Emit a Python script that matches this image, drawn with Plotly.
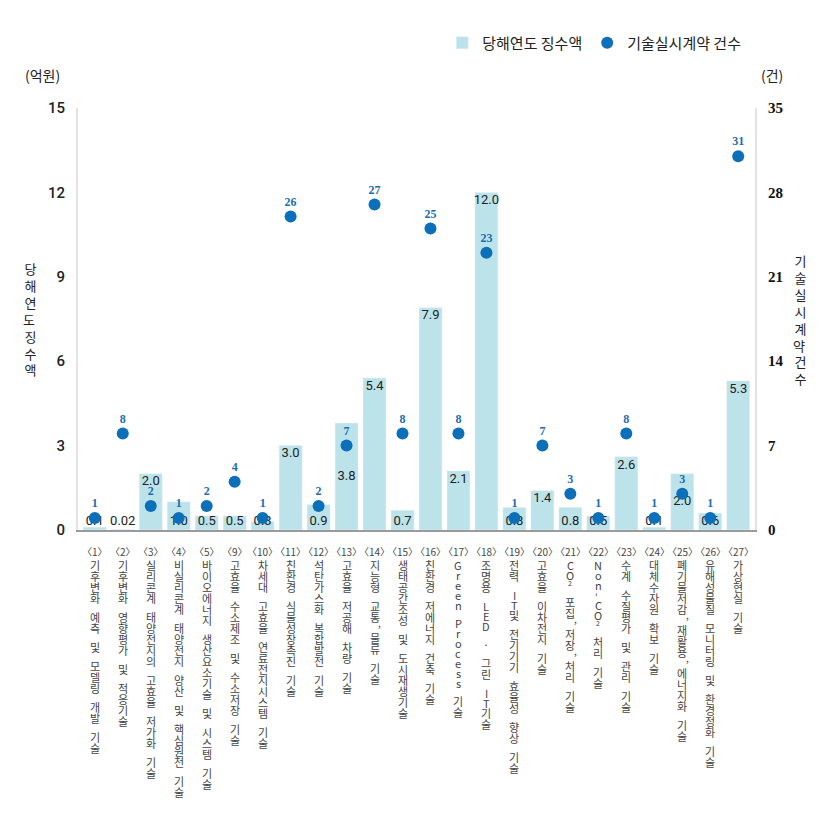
import plotly.graph_objects as go

categories = [
    "〈1〉기후변화 예측 및 모델링 개발 기술",
    "〈2〉기후변화 영향평가 및 적응기술",
    "〈3〉실리콘계 태양전지의 고효율 저가화 기술",
    "〈4〉비실리콘계 태양전지 양산 및 핵심원천 기술",
    "〈5〉바이오에너지 생산요소기술 및 시스템 기술",
    "〈9〉고효율 수소제조 및 수소저장 기술",
    "〈10〉차세대 고효율 연료전지시스템 기술",
    "〈11〉친환경 식물성장촉진 기술",
    "〈12〉석탄가스화 복합발전 기술",
    "〈13〉고효율 저공해 차량 기술",
    "〈14〉지능형 교통, 물류 기술",
    "〈15〉생태공간조성 및 도시재생기술",
    "〈16〉친환경 저에너지 건축 기술",
    "〈17〉Green Process 기술",
    "〈18〉조명용 LED · 그린 IT기술",
    "〈19〉전력 IT및 전기기기 효율성 향상 기술",
    "〈20〉고효율 이차전지 기술",
    "〈21〉CO₂ 포집, 저장, 처리 기술",
    "〈22〉Non-CO₂ 처리 기술",
    "〈23〉수계 수질평가 및 관리 기술",
    "〈24〉대체수자원 확보 기술",
    "〈25〉폐기물저감, 재활용, 에너지화 기술",
    "〈26〉유해성물질 모니터링 및 환경정화 기술",
    "〈27〉가상현실 기술",
]
amount = [0.1, 0.02, 2.0, 1.0, 0.5, 0.5, 0.3, 3.0, 0.9, 3.8, 5.4, 0.7,
          7.9, 2.1, 12.0, 0.8, 1.4, 0.8, 0.5, 2.6, 0.1, 2.0, 0.6, 5.3]
contracts = [1, 8, 2, 1, 2, 4, 1, 26, 2, 7, 27, 8, 25, 8, 23, 1, 7, 3, 1, 8,
             1, 3, 1, 31]
left_ticks = [0, 3, 6, 9, 12, 15]
right_ticks = [0, 7, 14, 21, 28, 35]

BAR = "#bde3ea"
DOT = "#0b6fba"
KR = "Noto Sans CJK KR"
LABEL_GRAY = "#444"

x = list(range(len(categories)))
amount_text = [f"{v:.1f}" if round(v, 1) == v else f"{v}" for v in amount]

# bar-label placement derived from the values (avoid the dot when it sits at the bar top)
label_y = []
for v, c in zip(amount, contracts):
    d = c * 15 / 35
    if v >= 1.3:
        if v - 0.9 <= d <= v + 0.1:
            label_y.append(v / 2)
        else:
            label_y.append(v - 0.3)
    else:
        label_y.append(0.3)

fig = go.Figure()
fig.add_trace(go.Bar(x=x, y=amount, name="당해연도 징수액", marker_color=BAR,
                     width=0.82, yaxis="y", hoverinfo="skip"))
fig.add_trace(go.Scatter(x=x, y=label_y, mode="text", text=amount_text,
                         textposition="middle center", yaxis="y",
                         textfont=dict(family="Roboto", size=13, color="#222"),
                         showlegend=False, hoverinfo="skip"))
fig.add_trace(go.Scatter(x=x, y=contracts, mode="markers", yaxis="y2",
                         name="기술실시계약 건수",
                         marker=dict(size=12, color=DOT)))
fig.add_trace(go.Scatter(x=x, y=contracts, mode="markers+text", yaxis="y2",
                         text=[str(c) for c in contracts],
                         textposition="top center",
                         textfont=dict(family="Liberation Serif", size=12,
                                       color="#1c6db0", weight="bold"),
                         marker=dict(size=11, color=DOT, opacity=0),
                         showlegend=False, hoverinfo="skip"))

# vertical (upright, stacked) category labels under the axis
annotations = []
P_KR, P_LAT, P_SP = 11.0, 10.0, 8.0


def char_pitch(ch):
    if ch.isascii() and ch.isalnum():
        return P_LAT
    return P_KR


for i, name in enumerate(categories):
    k = name.index("〉") + 1
    num, body = name[:k], name[k:]
    annotations.append(dict(x=i, y=0, xref="x", yref="paper", text=num,
                            showarrow=False, yshift=-21, xanchor="center",
                            yanchor="middle",
                            font=dict(family=KR, size=10, color=LABEL_GRAY)))
    cur = 35.0
    for ch in body:
        if ch == " ":
            cur += P_SP
            continue
        base = dict(x=i, y=0, xref="x", yref="paper", showarrow=False,
                    xanchor="center", yanchor="middle")
        if ch == ",":
            annotations.append(dict(base, text=",", yshift=-(cur - 6), xshift=5,
                                    font=dict(family=KR, size=10,
                                              color=LABEL_GRAY)))
            cur += 2
            continue
        if ch == "₂":
            annotations.append(dict(base, text="2", yshift=-(cur - 2),
                                    font=dict(family=KR, size=7,
                                              color=LABEL_GRAY)))
            cur += 9
            continue
        if ch == "-":
            annotations.append(dict(base, text="-", yshift=-cur, textangle=90,
                                    font=dict(family=KR, size=11,
                                              color=LABEL_GRAY)))
            cur += P_LAT
            continue
        annotations.append(dict(base, text=ch, yshift=-cur,
                                font=dict(family=KR, size=11, color=LABEL_GRAY)))
        cur += char_pitch(ch)


def vstack(text):
    lines = []
    for ch in text:
        if ch == " " and lines:
            lines[-1] += ch
        else:
            lines.append(ch)
    return "<br>".join(lines)


annotations += [
    dict(x=0, y=0.5, xref="paper", yref="paper", text=vstack("당해연도 징수액"),
         showarrow=False, xshift=-48, xanchor="center", yanchor="middle",
         font=dict(family=KR, size=13, color="#222")),
    dict(x=1, y=0.5, xref="paper", yref="paper", text=vstack("기술실시계약 건수"),
         showarrow=False, xshift=45, xanchor="center", yanchor="middle",
         font=dict(family=KR, size=13, color="#222")),
    dict(x=0, y=1, xref="paper", yref="paper", text="(억원)",
         showarrow=False, xshift=-36, yshift=33, xanchor="center",
         yanchor="middle", font=dict(family=KR, size=14, color="#222")),
    dict(x=1, y=1, xref="paper", yref="paper", text="(건)",
         showarrow=False, xshift=17, yshift=33, xanchor="center",
         yanchor="middle", font=dict(family=KR, size=14, color="#222")),
]

fig.update_layout(
    width=819, height=826, autosize=False,
    margin=dict(l=70, r=72, t=100, b=304),
    paper_bgcolor="white", plot_bgcolor="white",
    xaxis=dict(range=[-0.6, 23.6], showticklabels=False, showline=True,
               linecolor="#9a9a9a", linewidth=2, zeroline=False,
               showgrid=False, ticks="", fixedrange=True),
    yaxis=dict(range=[0, 15], tickvals=left_ticks, showline=True,
               linecolor="#e3e3e3", linewidth=2, showgrid=False,
               zeroline=False, ticks="", ticklabelstandoff=8,
               tickfont=dict(family="Roboto", size=15, color="#222",
                             weight=500)),
    yaxis2=dict(range=[0, 35], tickvals=right_ticks, overlaying="y",
                side="right", showline=True, linecolor="#e3e3e3",
                linewidth=2, showgrid=False, zeroline=False, ticks="",
                ticklabelstandoff=8,
                tickfont=dict(family="Liberation Serif", size=15,
                              color="#111", weight="bold")),
    legend=dict(orientation="h", x=0.538, y=1.154, xanchor="left",
                yanchor="middle", bgcolor="rgba(0,0,0,0)",
                font=dict(family=KR, size=15, color="#222")),
    annotations=annotations,
    showlegend=True,
)

fig.write_html("out.html")
